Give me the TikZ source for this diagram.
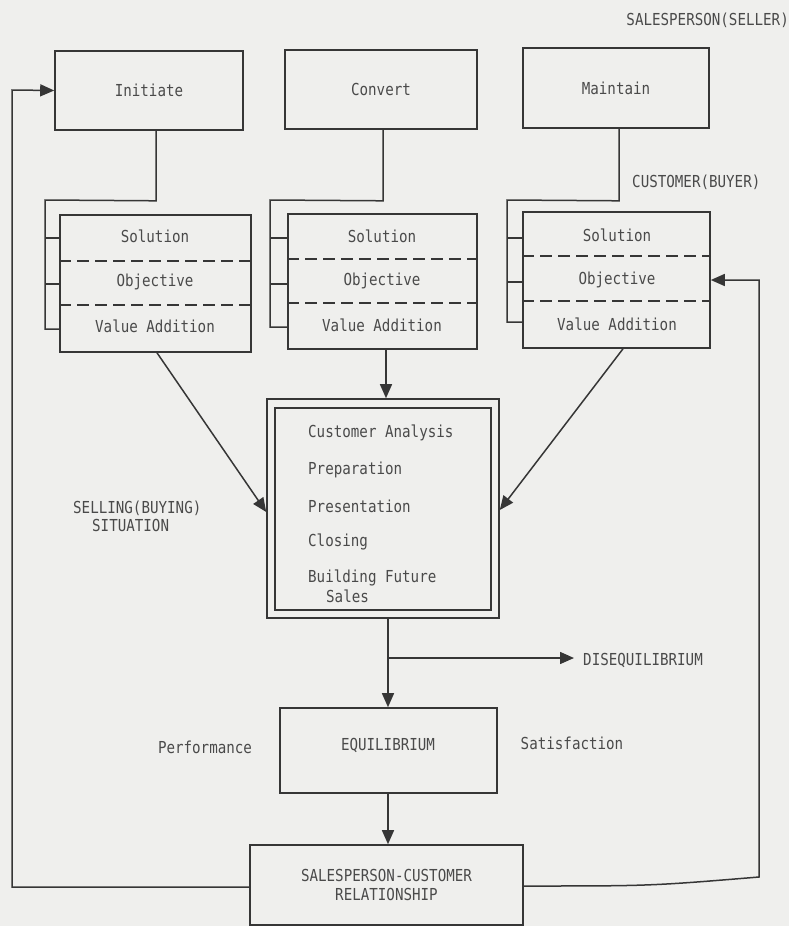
\documentclass[tikz,border=0pt]{standalone}
\usepackage{fontspec}
\newfontfamily\tw[FakeStretch=0.86]{DejaVu Sans Mono}
\usetikzlibrary{arrows.meta,calc}
\definecolor{ink}{HTML}{363636}
\definecolor{paper}{HTML}{EFEFED}
\begin{document}
\begin{tikzpicture}[x=1pt,y=-1pt,
  every node/.style={font=\tw\fontsize{16.5}{19}\selectfont, text=ink!90},
  box/.style={draw=ink, line width=1.6pt, inner sep=0pt},
  txt/.style={inner sep=0pt},
  line/.style={draw=ink, line width=1.5pt},
  arr/.style={line, -{Triangle[length=14pt,width=12pt]}},
  dashline/.style={draw=ink, line width=1.4pt, dash pattern=on 12pt off 6pt}]
\fill[paper] (0,0) rectangle (789,926);
\useasboundingbox (0,0) rectangle (789,926);

% top boxes
\node[box, minimum width=188pt, minimum height=79pt] (init) at (149,90.5) {Initiate};
\node[box, minimum width=192pt, minimum height=79pt] (conv) at (381,89.5) {Convert};
\node[box, minimum width=186pt, minimum height=80pt] (main) at (616,88) {Maintain};
\node[txt, anchor=east] (seller) at (789,20) {SALESPERSON(SELLER)};
\node[txt, anchor=west] (buyer) at (632,182) {CUSTOMER(BUYER)};

% layered boxes
\node[box, minimum width=191pt, minimum height=137pt] (L) at (155.5,283.5) {};
\node[box, minimum width=189pt, minimum height=135pt] (M) at (382.5,281.5) {};
\node[box, minimum width=187pt, minimum height=136pt] (R) at (616.5,280) {};
\draw[dashline] (L.west |- 0,261) -- (L.east |- 0,261);
\draw[dashline] (L.west |- 0,305) -- (L.east |- 0,305);
\draw[dashline] (M.west |- 0,259) -- (M.east |- 0,259);
\draw[dashline] (M.west |- 0,303) -- (M.east |- 0,303);
\draw[dashline] (R.west |- 0,256) -- (R.east |- 0,256);
\draw[dashline] (R.west |- 0,301) -- (R.east |- 0,301);
\node[txt] (ls) at (155,236) {Solution};
\node[txt] (lo) at (155,282) {Objective};
\node[txt] (lv) at (155,326) {Value Addition};
\node[txt] (ms) at (382,236) {Solution};
\node[txt] (mo) at (382,281) {Objective};
\node[txt] (mv) at (382,325) {Value Addition};
\node[txt] (rs) at (617,235) {Solution};
\node[txt] (ro) at (617,280) {Objective};
\node[txt] (rv) at (617,324) {Value Addition};

% brackets
\draw[line] ([xshift=7pt]init.south) -- ++(0,70) -- (45,200) -- (45,329) -- (L.west |- 0,329);
\draw[line] (45,238) -- (L.west |- 0,238);
\draw[line] (45,284) -- (L.west |- 0,284);
\draw[line] ([xshift=2pt]conv.south) -- ++(0,71) -- (270,200) -- (270,327) -- (M.west |- 0,327);
\draw[line] (270,238) -- (M.west |- 0,238);
\draw[line] (270,284) -- (M.west |- 0,284);
\draw[line] ([xshift=3pt]main.south) -- ++(0,72) -- (507,200) -- (507,322) -- (R.west |- 0,322);
\draw[line] (507,238) -- (R.west |- 0,238);
\draw[line] (507,282) -- (R.west |- 0,282);

% central double box
\node[box, minimum width=232pt, minimum height=219pt] (big) at (383,508.5) {};
\node[box, minimum width=216pt, minimum height=202pt] (bigin) at (383,509) {};
\node[txt, anchor=west] (t1) at (308,433) {Customer Analysis};
\node[txt, anchor=west] (t2) at (308,470) {Preparation};
\node[txt, anchor=west] (t3) at (308,506) {Presentation};
\node[txt, anchor=west] (t4) at (308,542) {Closing};
\node[txt, anchor=west] (t5) at (308,578) {Building Future};
\node[txt, anchor=west] (t6) at (326,596) {Sales};
\node[txt, anchor=west] (sit1) at (73,508) {SELLING(BUYING)};
\node[txt, anchor=west] (sit2) at (92,525) {SITUATION};

\draw[arr] ([xshift=3.5pt]M.south) -- ([xshift=3pt]big.north);
\draw[arr] ([xshift=1.5pt]L.south) -- ([yshift=-3.5pt]big.west);
\draw[arr] ([xshift=6.5pt]R.south) -- ([yshift=-1.5pt]big.east);

% equilibrium
\node[box, minimum width=217pt, minimum height=85pt] (eq) at (388.5,750.5) {};
\node[txt] (eqt) at (388,745) {EQUILIBRIUM};
\node[txt] (perf) at (205,747) {Performance};
\node[txt] (sat) at (572,743) {Satisfaction};
\coordinate (br) at (388,658);
\draw[arr] ([xshift=5pt]big.south) -- (br) -- (br |- eq.north);
\node[txt, anchor=west] (dis) at (583,660) {DISEQUILIBRIUM};
\draw[arr] (br) -- ([xshift=-9pt]br -| dis.west);

% relationship
\node[box, minimum width=273pt, minimum height=80pt, align=center, font=\tw\fontsize{16.5}{19.5}\selectfont] (sc) at (386.5,885) {SALESPERSON-CUSTOMER\\RELATIONSHIP};
\draw[arr] (eq.south -| br) -- (sc.north -| br);

% feedback loops
\draw[arr] ([yshift=-2pt]sc.west) -- (12,887) -- (12,90) -- (init.west);
\draw[arr] ([yshift=-1pt]sc.east) .. controls (650,886) .. (759,877) -- (759,280) -- (R.east);
\end{tikzpicture}
\end{document}
